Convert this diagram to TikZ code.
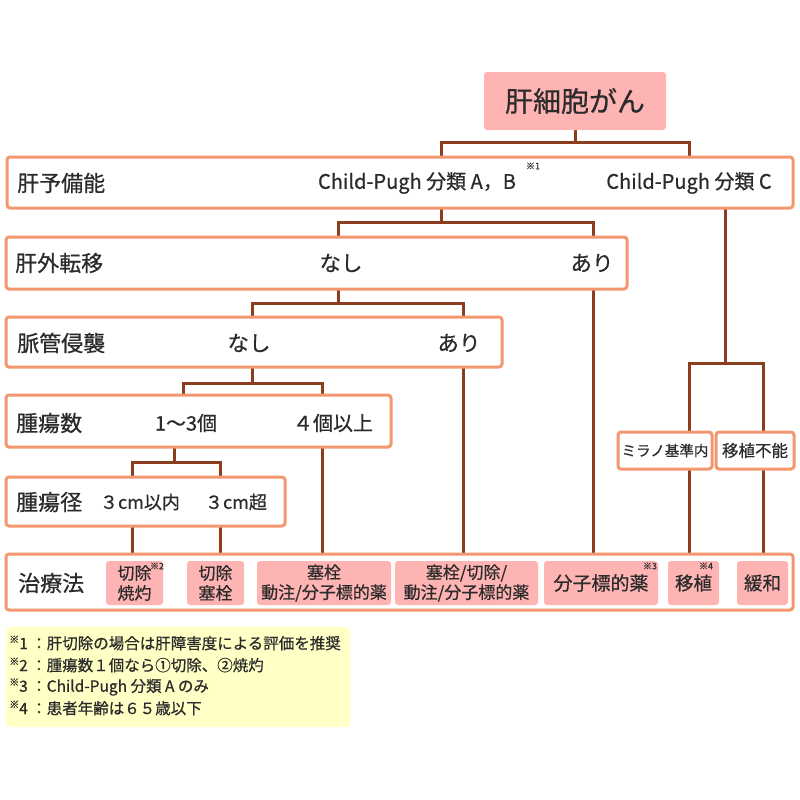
\documentclass[tikz,border=0pt]{standalone}
\usepackage{fontspec}
\setmainfont{Noto Sans CJK JP}[FakeBold=0.6]
\usetikzlibrary{backgrounds}
\definecolor{rowborder}{HTML}{F2976E}
\definecolor{connc}{HTML}{8A3E1E}
\definecolor{pinkfill}{HTML}{FFB4B4}
\definecolor{notefill}{HTML}{FFFFC6}
\definecolor{txt}{HTML}{2B2B2B}
\tikzset{
  rowbox/.style={draw=rowborder, line width=3pt, fill=white, rounded corners=3pt, inner sep=0pt, outer sep=0pt, anchor=north west},
  pinkbox/.style={fill=pinkfill, rounded corners=3pt, inner sep=0pt, outer sep=0pt, anchor=north west, text=txt, align=center, font=\fontsize{17}{20}\selectfont},
  conn/.style={draw=connc, line width=3pt, line join=miter},
  lbl/.style={text=txt, font=\fontsize{22}{26}\selectfont, inner sep=0pt, anchor=west},
  val/.style={text=txt, font=\fontsize{20}{24}\selectfont, inner sep=0pt},
  valb/.style={text=txt, font=\fontsize{21.5}{24}\selectfont, inner sep=0pt},
  note/.style={text=txt, font=\fontsize{9}{9}\selectfont, inner sep=0pt},
  fn/.style={text=txt, font=\fontsize{15.5}{18}\selectfont, inner sep=0pt, anchor=west},
}
\newcommand{\kome}{\raisebox{6pt}{\fontsize{10}{10}\selectfont ※}}
\begin{document}
\begin{tikzpicture}[x=1pt,y=-1pt]
\useasboundingbox (0,0) rectangle (800,800);

% title
\node[pinkbox, minimum width=182pt, minimum height=58pt, font=\fontsize{28}{30}\selectfont] (title) at (484,72) {肝細胞がん};

% rows
\node[rowbox, minimum width=786pt, minimum height=51pt] (r1) at (7,157) {};
\node[rowbox, minimum width=621pt, minimum height=52pt] (r2) at (6,237) {};
\node[rowbox, minimum width=496pt, minimum height=50pt] (r3) at (6,317) {};
\node[rowbox, minimum width=385pt, minimum height=52pt] (r4) at (6,395) {};
\node[rowbox, minimum width=279pt, minimum height=49pt] (r5) at (6,477) {};
\node[rowbox, minimum width=787pt, minimum height=56pt] (r6) at (6,554) {};
\node[rowbox, minimum width=94pt, minimum height=37pt] (milano) at (618,432) {};
\node[rowbox, minimum width=78pt, minimum height=37pt] (funo) at (716,432) {};
\node[text=txt, font=\fontsize{14.5}{16}\selectfont, inner sep=0pt] (milanot) at (milano.center) {ミラノ基準内};
\node[text=txt, font=\fontsize{16.5}{18}\selectfont, inner sep=0pt] (funot) at (funo.center) {移植不能};

% row texts
\node[lbl] (l1) at (17,183) {肝予備能};
\node[val] (v1a) at (417,183) {Child-Pugh 分類 A，B};
\node[note] (n1) at (533,166) {※1};
\node[val] (v1b) at (689,183) {Child-Pugh 分類 C};

\node[lbl] (l2) at (15,263) {肝外転移};
\node[valb] (v2a) at (341,263) {なし};
\node[valb] (v2b) at (592,263) {あり};

\node[lbl] (l3) at (17,343) {脈管侵襲};
\node[valb] (v3a) at (249,343) {なし};
\node[valb] (v3b) at (459,343) {あり};

\node[lbl] (l4) at (16,423) {腫瘍数};
\node[val] (v4a) at (186,423) {1〜3個};
\node[val] (v4b) at (333,423) {４個以上};

\node[lbl] (l5) at (16,502) {腫瘍径};
\node[val, font=\fontsize{18}{20}\selectfont] (v5a) at (140,502) {３cm以内};
\node[val, font=\fontsize{18}{20}\selectfont] (v5b) at (236,502) {３cm超};

\node[lbl] (l6) at (18,583) {治療法};

% treatment cells
\node[pinkbox, minimum width=57pt, minimum height=44pt] (p1) at (106,561) {切除\\焼灼};
\node[note] (n2) at (157,566) {※2};
\node[pinkbox, minimum width=57pt, minimum height=44pt] (p2) at (187,561) {切除\\塞栓};
\node[pinkbox, minimum width=134pt, minimum height=44pt] (p3) at (257,561) {塞栓\\動注/分子標的薬};
\node[pinkbox, minimum width=143pt, minimum height=44pt] (p4) at (395,561) {塞栓/切除/\\動注/分子標的薬};
\node[pinkbox, minimum width=114pt, minimum height=44pt, font=\fontsize{19}{22}\selectfont] (p5) at (544,561) {分子標的薬};
\node[note] (n3) at (650,566) {※3};
\node[pinkbox, minimum width=51pt, minimum height=44pt, font=\fontsize{18.5}{22}\selectfont] (p6) at (668,561) {移植};
\node[note] (n4) at (706,566) {※4};
\node[pinkbox, minimum width=51pt, minimum height=44pt, font=\fontsize{18.5}{22}\selectfont] (p7) at (737,561) {緩和};

% footnotes
\node[fill=notefill, rounded corners=4pt, minimum width=344pt, minimum height=100pt, inner sep=0pt, anchor=north west] (notes) at (6,627) {};
\node[fn] (f1) at (9,643) {\kome1 ：肝切除の場合は肝障害度による評価を推奨};
\node[fn] (f2) at (9,665) {\kome2 ：腫瘍数１個なら①切除、②焼灼};
\node[fn] (f3) at (9,687) {\kome3 ：Child-Pugh 分類 A のみ};
\node[fn] (f4) at (9,708) {\kome4 ：患者年齢は６５歳以下};

% connectors
\begin{scope}[on background layer]
\coordinate (c0) at (575,142); \coordinate (c0L) at (441,142); \coordinate (c0R) at (689,142);
\draw[conn] (title.south) -- (c0);
\draw[conn] (c0L |- r1.north) -- (c0L) -- (c0R) -- (c0R |- r1.north);

\coordinate (c1) at (441,222); \coordinate (c1L) at (338,222); \coordinate (c1R) at (593,222);
\draw[conn] (c1 |- r1.south) -- (c1);
\draw[conn] (c1L |- r2.north) -- (c1L) -- (c1R) -- (c1R |- r2.north);
\draw[conn] (c1R |- r2.south) -- (c1R |- r6.north);

\coordinate (c2) at (338,303); \coordinate (c2L) at (252,303); \coordinate (c2R) at (463,303);
\draw[conn] (c2 |- r2.south) -- (c2);
\draw[conn] (c2L |- r3.north) -- (c2L) -- (c2R) -- (c2R |- r3.north);
\draw[conn] (c2R |- r3.south) -- (c2R |- r6.north);

\coordinate (c3) at (252,383); \coordinate (c3L) at (183,383); \coordinate (c3R) at (322,383);
\draw[conn] (c3 |- r3.south) -- (c3);
\draw[conn] (c3L |- r4.north) -- (c3L) -- (c3R) -- (c3R |- r4.north);
\draw[conn] (c3R |- r4.south) -- (c3R |- r6.north);

\coordinate (c4) at (174,462); \coordinate (c4L) at (132,462); \coordinate (c4R) at (220,462);
\draw[conn] (c4 |- r4.south) -- (c4);
\draw[conn] (c4L |- r5.north) -- (c4L) -- (c4R) -- (c4R |- r5.north);
\draw[conn] (c4L |- r5.south) -- (c4L |- r6.north);
\draw[conn] (c4R |- r5.south) -- (c4R |- r6.north);

\coordinate (c5) at (725,363); \coordinate (c5L) at (689,363); \coordinate (c5R) at (763,363);
\draw[conn] (c5 |- r1.south) -- (c5);
\draw[conn] (c5L |- milano.north) -- (c5L) -- (c5R) -- (c5R |- funo.north);
\draw[conn] (c5L |- milano.south) -- (c5L |- r6.north);
\draw[conn] (c5R |- funo.south) -- (c5R |- r6.north);
\end{scope}
\end{tikzpicture}
\end{document}
